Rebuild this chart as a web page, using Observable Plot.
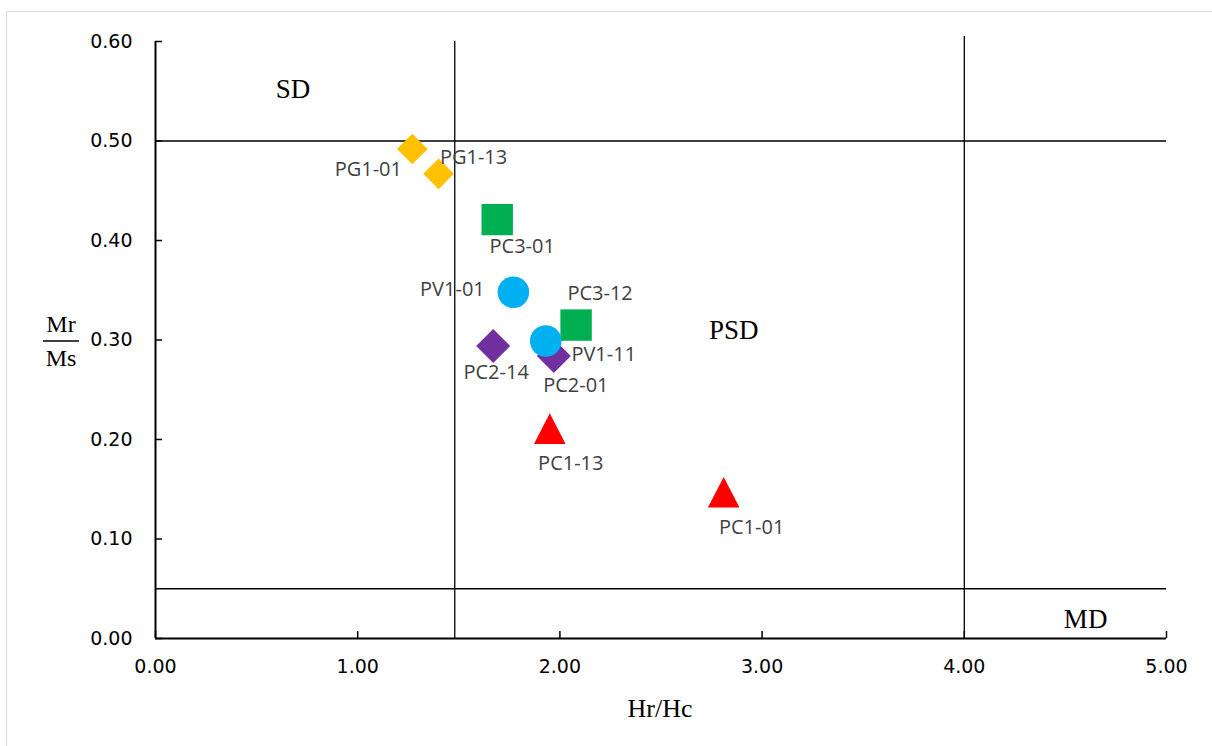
<!DOCTYPE html>
<html>
<head>
<meta charset="utf-8">
<script src="https://cdn.jsdelivr.net/npm/d3@7"></script>
<script src="https://cdn.jsdelivr.net/npm/@observablehq/plot@0.6"></script>
<style>
  body { margin: 0; background: #fff; }
  #chart { position: relative; width: 1212px; height: 746px; overflow: hidden; background: #fff; }
  #frame { position: absolute; left: 6px; top: 11px; width: 1240px; height: 780px;
           border: 1.5px solid #d9d9d9; box-sizing: border-box; }
  #chart svg { position: absolute; left: 0; top: 0; }
</style>
</head>
<body>
<div id="chart"><div id="frame"></div></div>
<script>
// Day plot samples: remanence ratio Mr/Ms against coercivity ratio Hr/Hc
const sampleNames = ["PG1-01", "PG1-13", "PC3-01", "PV1-01", "PC3-12", "PV1-11", "PC2-14", "PC2-01", "PC1-13", "PC1-01"];
const sampleGroup = ["PG1", "PG1", "PC3", "PV1", "PC3", "PV1", "PC2", "PC2", "PC1", "PC1"];
const hrHc = [1.27, 1.40, 1.69, 1.77, 2.08, 1.93, 1.67, 1.97, 1.95, 2.81];
const mrMs = [0.492, 0.467, 0.421, 0.348, 0.315, 0.299, 0.294, 0.284, 0.211, 0.147];

// Domain boundaries (SD / PSD / MD)
const boundaryHrHc = [1.48, 4];
const boundaryHrHcTop = [0.6, 0.605];
const boundaryMrMs = [0.5, 0.05];
const domainNames = ["SD", "PSD", "MD"];
const domainHrHc = [0.68, 2.86, 4.6];
const domainMrMs = [0.552, 0.31, 0.019];

// Axis ticks
const xTicks = [0, 1, 2, 3, 4, 5];
const yTicks = [0, 0.1, 0.2, 0.3, 0.4, 0.5, 0.6];

// Marker style per group, in drawing order
const triangle = {
  draw(ctx, size) {
    const r = Math.sqrt(size / Math.PI);
    ctx.moveTo(0, -0.97 * r);
    ctx.lineTo(r, 0.97 * r);
    ctx.lineTo(-r, 0.97 * r);
    ctx.closePath();
  }
};
const groupNames = ["PG1", "PC2", "PC3", "PV1", "PC1"];
const groupFill = ["#FFC000", "#7030A0", "#00B050", "#00B0F0", "#FF0000"];
const groupSymbol = ["diamond2", "diamond2", "square2", "circle", triangle];
const groupRadius = [13.8, 15.3, 20, 15.8, 15.8];

// Label placement around each marker (pixels)
const labelOffset = {
  "PG1-01": [-44, 21], "PG1-13": [35, -16], "PC3-01": [25, 27], "PV1-01": [-61, -3],
  "PC3-12": [24, -31], "PV1-11": [58, 14], "PC2-14": [3, 27], "PC2-01": [22, 30],
  "PC1-13": [21, 35], "PC1-01": [28, 35]
};

const samples = sampleNames.map((name, i) => ({name, group: sampleGroup[i], x: hrHc[i], y: mrMs[i]}));
const boundsV = boundaryHrHc.map((x, i) => ({x, top: boundaryHrHcTop[i]}));
const domains = domainNames.map((name, i) => ({name, x: domainHrHc[i], y: domainMrMs[i]}));

const xDomain = [0, 5], yDomain = [0, 0.6];
const fmt = d3.format(".2f");
const lineColor = "#000";

const marks = [
  // boundary lines
  Plot.ruleX(boundsV, {x: "x", y1: () => 0, y2: "top", stroke: lineColor, strokeWidth: 1.3}),
  Plot.ruleY(boundaryMrMs, {y: d => d, x1: () => xDomain[0], x2: () => xDomain[1], stroke: lineColor, strokeWidth: 1.3}),
  // axis lines
  Plot.ruleX([xDomain[0]], {x: d => d, y1: () => yDomain[0], y2: () => yDomain[1], stroke: lineColor, strokeWidth: 2}),
  Plot.ruleY([yDomain[0]], {y: d => d, x1: () => xDomain[0], x2: () => xDomain[1], stroke: lineColor, strokeWidth: 2}),
  // inward tick marks
  Plot.ruleX(xTicks, {x: d => d, y1: () => 0, y2: () => 0, insetBottom: 7, stroke: lineColor, strokeWidth: 1.5}),
  Plot.ruleY(yTicks, {y: d => d, x1: () => 0, x2: () => 0, insetRight: -7, stroke: lineColor, strokeWidth: 1.5}),
  // tick labels
  Plot.axisX({ticks: xTicks, tickSize: 0, tickPadding: 21, tickFormat: fmt, label: null,
    fontSize: 19, fontFamily: "DejaVu Sans", fill: "#000"}),
  Plot.axisY({ticks: yTicks, tickSize: 0, tickPadding: 23, tickFormat: fmt, label: null,
    fontSize: 19, fontFamily: "DejaVu Sans", fill: "#000"}),
  // domain names
  Plot.text(domains, {x: "x", y: "y", text: "name", fontSize: 27, fontFamily: "Liberation Serif", fill: "#000"})
];

groupNames.forEach((g, i) => {
  marks.push(Plot.dot(samples.filter(d => d.group === g), {
    x: "x", y: "y", symbol: groupSymbol[i], r: groupRadius[i], fill: groupFill[i], stroke: "none"
  }));
});

samples.forEach(d => {
  const [dx, dy] = labelOffset[d.name];
  marks.push(Plot.text([d], {x: "x", y: "y", text: "name", dx, dy, fontSize: 20,
    fontFamily: "Open Sans", fill: "#404040", textAnchor: "middle", lineAnchor: "middle"}));
});

const chart = Plot.plot({
  width: 1212, height: 746,
  marginLeft: 155, marginRight: 46, marginTop: 41, marginBottom: 108,
  x: {domain: xDomain},
  y: {domain: yDomain},
  style: {background: "transparent"},
  marks
});

// Axis titles
const svg = d3.select(chart);
svg.append("text").attr("x", 660).attr("y", 708).attr("text-anchor", "middle").attr("dominant-baseline", "central")
  .attr("font-family", "Liberation Serif").attr("font-size", 26).attr("fill", "#000").text("Hr/Hc");
const yLab = svg.append("g").attr("font-family", "Liberation Serif").attr("font-size", 24).attr("fill", "#000").attr("text-anchor", "middle");
yLab.append("text").attr("x", 61).attr("y", 324).attr("dominant-baseline", "central").text("Mr");
yLab.append("line").attr("x1", 43).attr("x2", 79).attr("y1", 341).attr("y2", 341).attr("stroke", "#000").attr("stroke-width", 1.5);
yLab.append("text").attr("x", 61).attr("y", 358).attr("dominant-baseline", "central").text("Ms");

document.getElementById("chart").appendChild(chart);
</script>
</body>
</html>
